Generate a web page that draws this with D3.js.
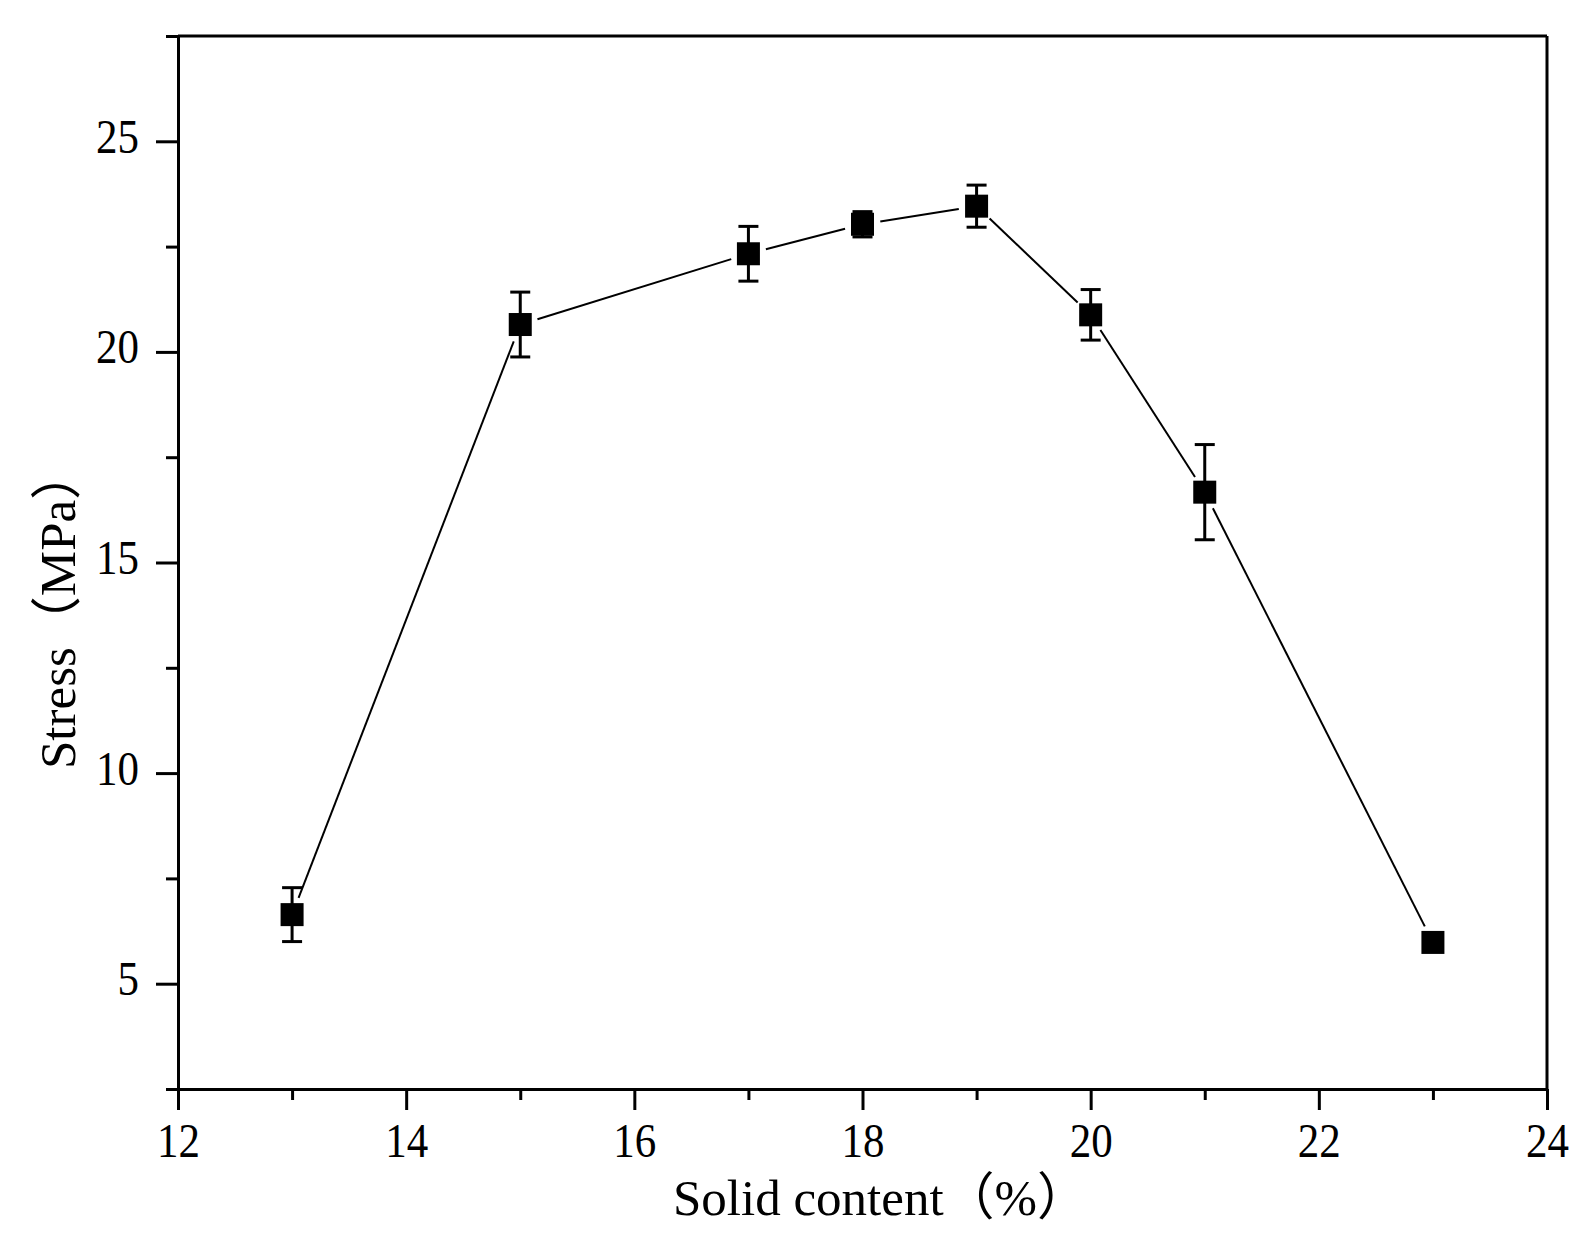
<!DOCTYPE html>
<html>
<head>
<meta charset="utf-8">
<script src="https://cdn.jsdelivr.net/npm/d3@7"></script>
<style>
  html, body { margin: 0; padding: 0; background: #fff; }
  svg { display: block; }
  text { font-family: "Liberation Serif", "Noto Sans CJK SC", serif; fill: #000; }
</style>
</head>
<body>
<script>
// ---- data ----
const solidContent = [13, 15, 17, 18, 19, 20, 21, 23];
const stress       = [6.64, 20.65, 22.33, 23.03, 23.46, 20.88, 16.67, 5.98];
const stressError  = [0.64, 0.77, 0.65, 0.30, 0.50, 0.60, 1.13, 0.15];
const xMajorTicks  = [12, 14, 16, 18, 20, 22, 24];
const xMinorTicks  = [13, 15, 17, 19, 21, 23];
const yMajorTicks  = [5, 10, 15, 20, 25];
const yMinorTicks  = [2.5, 7.5, 12.5, 17.5, 22.5, 27.5];
const xTitle = "Solid content（%）";
const yTitle = "Stress（MPa）";

const W = 1590, H = 1255;
const svg = d3.select("body").append("svg").attr("width", W).attr("height", H);

const x = d3.scaleLinear().domain([12, 24]).range([178, 1547]);
const y = d3.scaleLinear().domain([2.5, 27.5]).range([1089, 36]);

const AX = 3;

// frame (top and right)
svg.append("line").attr("x1", x(12)).attr("x2", x(24)).attr("y1", y(27.5)).attr("y2", y(27.5))
  .attr("stroke", "#000").attr("stroke-width", AX);
svg.append("line").attr("x1", x(24)).attr("x2", x(24)).attr("y1", y(27.5)).attr("y2", y(2.5))
  .attr("stroke", "#000").attr("stroke-width", AX);

// x axis
const gx = svg.append("g").attr("transform", `translate(0,${y(2.5)})`);
gx.call(d3.axisBottom(x).tickValues(xMajorTicks).tickSize(21).tickSizeOuter(0).tickFormat(d3.format("d")));
const gxm = svg.append("g").attr("transform", `translate(0,${y(2.5)})`);
gxm.call(d3.axisBottom(x).tickValues(xMinorTicks).tickSize(11).tickSizeOuter(0).tickFormat(""));
gxm.select(".domain").remove();

// y axis
const gy = svg.append("g").attr("transform", `translate(${x(12)},0)`);
gy.call(d3.axisLeft(y).tickValues(yMajorTicks).tickSize(22).tickSizeOuter(0).tickFormat(d3.format("d")));
const gym = svg.append("g").attr("transform", `translate(${x(12)},0)`);
gym.call(d3.axisLeft(y).tickValues(yMinorTicks).tickSize(12).tickSizeOuter(0).tickFormat(""));
gym.select(".domain").remove();

[gx, gxm, gy, gym].forEach(g => {
  g.selectAll(".domain").attr("stroke", "#000").attr("stroke-width", AX);
  g.selectAll(".tick line").attr("stroke", "#000").attr("stroke-width", AX);
});

gx.selectAll(".tick text")
  .attr("y", null).attr("dy", null)
  .attr("transform", "translate(0,1157) scale(1,1.15)".replace("1157", 68))
  .style("font-size", "43px").style("font-family", '"Liberation Serif", serif');
gy.selectAll(".tick text")
  .attr("x", null).attr("dy", null)
  .attr("transform", "translate(-39,11) scale(1,1.15)")
  .style("font-size", "43px").style("font-family", '"Liberation Serif", serif');

// axis titles
svg.append("text").attr("x", 673).attr("y", 1215)
  .style("font-size", "51px").text(xTitle);
svg.append("text").attr("transform", "translate(75,769) rotate(-90)")
  .style("font-size", "51px").text(yTitle);

// connecting line with gaps near markers
const pts = solidContent.map((d, i) => [x(d), y(stress[i])]);
const GAP = 18;
const segs = [];
for (let i = 0; i < pts.length - 1; i++) {
  const [x1, y1] = pts[i], [x2, y2] = pts[i + 1];
  const L = Math.hypot(x2 - x1, y2 - y1);
  const ux = (x2 - x1) / L, uy = (y2 - y1) / L;
  segs.push([[x1 + ux * GAP, y1 + uy * GAP], [x2 - ux * GAP, y2 - uy * GAP]]);
}
svg.append("g").selectAll("line").data(segs).join("line")
  .attr("x1", d => d[0][0]).attr("y1", d => d[0][1])
  .attr("x2", d => d[1][0]).attr("y2", d => d[1][1])
  .attr("stroke", "#000").attr("stroke-width", 2);

// error bars
const eb = svg.append("g").selectAll("g").data(solidContent.map((d, i) => i)).join("g");
eb.append("line")
  .attr("x1", i => x(solidContent[i])).attr("x2", i => x(solidContent[i]))
  .attr("y1", i => y(stress[i] + stressError[i])).attr("y2", i => y(stress[i] - stressError[i]))
  .attr("stroke", "#000").attr("stroke-width", 3);
eb.append("line")
  .attr("x1", i => x(solidContent[i]) - 10).attr("x2", i => x(solidContent[i]) + 10)
  .attr("y1", i => y(stress[i] + stressError[i])).attr("y2", i => y(stress[i] + stressError[i]))
  .attr("stroke", "#000").attr("stroke-width", 3);
eb.append("line")
  .attr("x1", i => x(solidContent[i]) - 10).attr("x2", i => x(solidContent[i]) + 10)
  .attr("y1", i => y(stress[i] - stressError[i])).attr("y2", i => y(stress[i] - stressError[i]))
  .attr("stroke", "#000").attr("stroke-width", 3);

// markers
const S = 23;
svg.append("g").selectAll("rect").data(solidContent.map((d, i) => i)).join("rect")
  .attr("x", i => x(solidContent[i]) - S / 2).attr("y", i => y(stress[i]) - S / 2)
  .attr("width", S).attr("height", S).attr("fill", "#000");
</script>
</body>
</html>
